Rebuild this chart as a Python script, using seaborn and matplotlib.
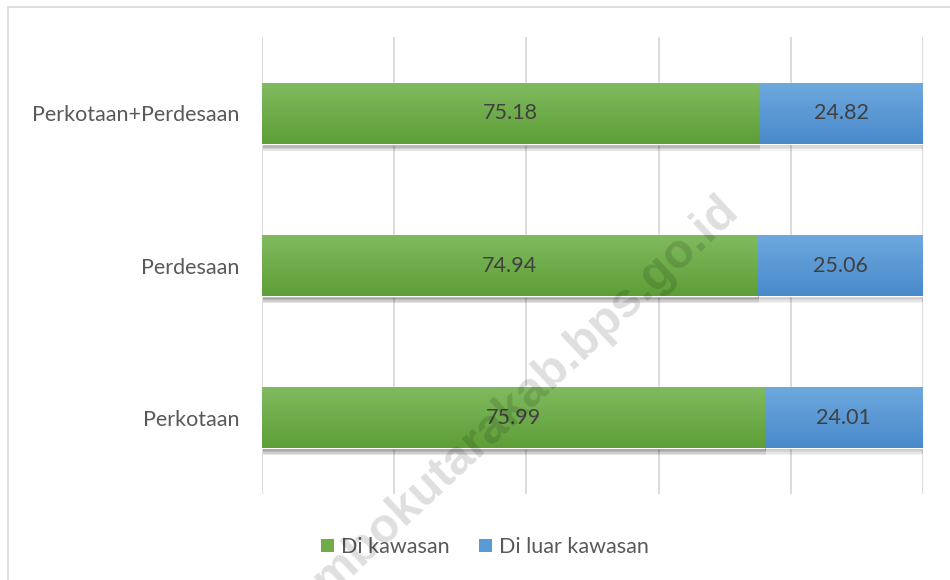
import numpy as np
import pandas as pd
import matplotlib
matplotlib.use("Agg")
import matplotlib.pyplot as plt
import matplotlib.patheffects as pe
from matplotlib.patches import Rectangle, Patch
import seaborn as sns

categories = ["Perkotaan+Perdesaan", "Perdesaan", "Perkotaan"]
di_kawasan = [75.18, 74.94, 75.99]
di_luar_kawasan = [24.82, 25.06, 24.01]
series_names = ["Di kawasan", "Di luar kawasan"]

sns.set_theme(style="white")
plt.rcParams["font.family"] = ["Lato", "DejaVu Sans"]

GREEN = "#70AD47"
BLUE = "#5B9BD5"
FS = 15.5

df = pd.DataFrame({"cat": categories, "green": di_kawasan,
                   "blue": di_luar_kawasan})
df["total"] = df["green"] + df["blue"]

fig = plt.figure(figsize=(9.5, 5.8), dpi=100)
ax = fig.add_axes([262/950, 1-494/580, (923-262)/950, (494-37)/580])

sns.barplot(data=df, y="cat", x="total", color=BLUE, saturation=1,
            width=0.4, ax=ax, orient="h")
n_blue = len(ax.patches)
sns.barplot(data=df, y="cat", x="green", color=GREEN, saturation=1,
            width=0.4, ax=ax, orient="h")

ax.set_xlim(0, 100)
ax.set_ylim(2.5, -0.5)
ax.set_xticks([0, 20, 40, 60, 80, 100])
ax.set_xticklabels([])
ax.tick_params(axis="x", length=0)
ax.tick_params(axis="y", length=0, pad=16, labelsize=FS, labelcolor="#595959")
ax.grid(axis="x", color="#D9D9D9", linewidth=1.3)
ax.set_axisbelow(True)
for s in ax.spines.values():
    s.set_visible(False)
ax.set_xlabel("")
ax.set_ylabel("")

def gradient_fill(patch, top, bottom):
    x0, y0 = patch.get_x(), patch.get_y()
    w, h = patch.get_width(), patch.get_height()
    c1 = np.array(matplotlib.colors.to_rgb(top))
    c2 = np.array(matplotlib.colors.to_rgb(bottom))
    t = np.linspace(0, 1, 64)[:, None]
    img = (c1 * (1 - t) + c2 * t)[:, None, :]
    im = ax.imshow(img, extent=[x0, x0 + w, y0 + h, y0], aspect="auto",
                   zorder=patch.get_zorder() + 0.01, interpolation="bilinear")
    im.set_clip_path(patch)

shadow = [pe.SimplePatchShadow(offset=(1.0, -k), shadow_rgbFace="black",
                               alpha=0.05) for k in (1.0, 2.0, 3.0, 4.0, 5.0)]
for i, p in enumerate(ax.patches):
    p.set_path_effects(shadow + [pe.Normal()])
    if i < n_blue:
        gradient_fill(p, "#6DA8DE", "#4A8ACB")
    else:
        gradient_fill(p, "#80BA5F", "#5E9E37")
ax.set_ylim(2.5, -0.5)
ax.set_xlim(0, 100)

for i in range(len(categories)):
    g = di_kawasan[i]
    b = di_luar_kawasan[i]
    ax.text(g / 2, i, f"{g:.2f}", ha="center", va="center", fontsize=FS,
            color="#404040", zorder=5)
    ax.text(g + b / 2, i, f"{b:.2f}", ha="center", va="center", fontsize=FS,
            color="#404040", zorder=5)

handles = [Patch(facecolor=GREEN, edgecolor="none"),
           Patch(facecolor=BLUE, edgecolor="none")]
fig.legend(handles, series_names, loc="center", bbox_to_anchor=(485/950, 1-547/580),
           ncol=2, frameon=False, fontsize=FS, labelcolor="#595959",
           handlelength=0.6, handleheight=0.6, handletextpad=0.3,
           columnspacing=1.4)

fig.patches.append(Rectangle((8/950, -0.1), 1.1, 1 - 7/580 + 0.1,
                             transform=fig.transFigure, fill=False,
                             edgecolor="#D9D9D9", linewidth=1.2))

fig.text(732/950, 1-203/580, "lombokutarakab.bps.go.id", rotation=43,
         rotation_mode="anchor", ha="right", va="center", fontsize=35,
         fontweight="bold", family=["Liberation Sans", "DejaVu Sans"],
         color="black", alpha=0.13, zorder=10)

fig.savefig("out.png", dpi=100)
